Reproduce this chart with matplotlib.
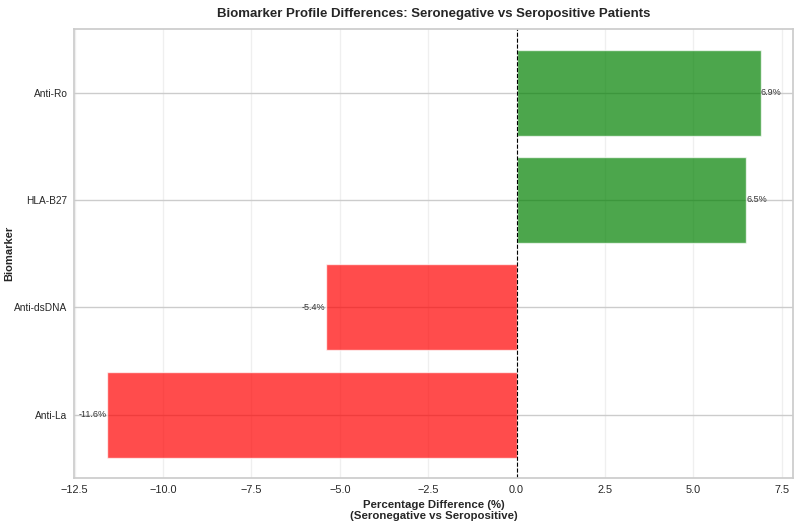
import matplotlib
matplotlib.use("Agg")
import matplotlib.pyplot as plt
import seaborn as sns

biomarkers = ["Anti-La", "Anti-dsDNA", "HLA-B27", "Anti-Ro"]
differences = [-11.6, -5.4, 6.5, 6.9]

sns.set_theme(style="whitegrid")
plt.rcParams['font.family'] = ['Liberation Sans', 'DejaVu Sans']

fig, ax = plt.subplots(figsize=(7.94, 5.22), dpi=100)
fig.subplots_adjust(left=0.093, right=0.999, top=0.944, bottom=0.084)

colors = ['green' if v > 0 else 'red' for v in differences]
bars = ax.barh(biomarkers, differences, color=colors, alpha=0.7, height=0.8)

ax.axvline(0, color='black', linestyle='--', linewidth=0.8)

for b, v in zip(bars, differences):
    y = b.get_y() + b.get_height() / 2
    ax.text(v, y, f"{v:.1f}%", ha='left' if v > 0 else 'right', va='center',
            fontsize=6.5, color='#333333')

ax.set_title("Biomarker Profile Differences: Seronegative vs Seropositive Patients",
             fontsize=9.5, fontweight='bold', pad=9)
ax.set_xlabel("Percentage Difference (%)\n(Seronegative vs Seropositive)",
              fontsize=8.2, fontweight='bold', labelpad=3.5, linespacing=1.1)
ax.set_ylabel("Biomarker", fontsize=8, fontweight='bold')
ax.yaxis.set_label_coords(14 / 794, 0.5 * (0.944 + 0.084), transform=fig.transFigure)
ax.tick_params(axis='x', labelsize=7.8, pad=5, length=0)
ax.tick_params(axis='y', labelsize=7.3, pad=4.5, length=0)
ax.grid(axis='x', alpha=0.3)

fig.savefig("out.png", dpi=100)
